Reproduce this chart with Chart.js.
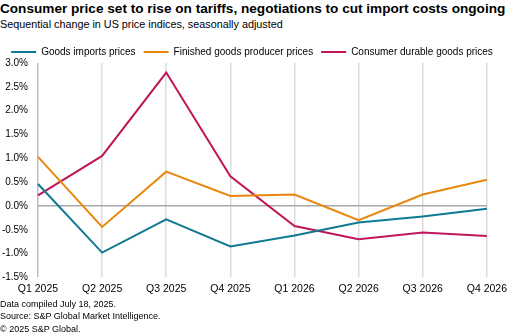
<!DOCTYPE html>
<html>
<head>
<meta charset="utf-8">
<script src="https://cdn.jsdelivr.net/npm/chart.js@4.4.0/dist/chart.umd.min.js"></script>
<style>
  body{margin:0;width:512px;height:335px;background:#fff;font-family:"Liberation Sans",Arial,sans-serif;color:#000;overflow:hidden;position:relative;}
  .title{position:absolute;left:0;top:1px;font-size:13.6px;font-weight:bold;white-space:nowrap;}
  .subtitle{position:absolute;left:0;top:18px;font-size:10.8px;white-space:nowrap;}
  .chartbox{position:absolute;left:0;top:39px;width:512px;height:261px;}
  .footer{position:absolute;left:0;top:298px;font-size:9px;line-height:12.3px;}
</style>
</head>
<body>
<div class="title">Consumer price set to rise on tariffs, negotiations to cut import costs ongoing</div>
<div class="subtitle">Sequential change in US price indices, seasonally adjusted</div>
<div class="chartbox"><canvas id="pricechart"></canvas></div>
<div class="footer">Data compiled July 18, 2025.<br>Source: S&amp;P Global Market Intelligence.<br>© 2025 S&amp;P Global.</div>
<script>
// quarters on the x axis
const quarters = ["Q1 2025","Q2 2025","Q3 2025","Q4 2025","Q1 2026","Q2 2026","Q3 2026","Q4 2026"];

// sequential % change
const goodsImports = [0.46,-0.98,-0.28,-0.85,-0.62,-0.35,-0.22,-0.06];
const finishedGoods = [1.03,-0.44,0.72,0.21,0.24,-0.30,0.24,0.55];
const consumerDurables = [0.22,1.05,2.80,0.62,-0.42,-0.70,-0.56,-0.63];

const yTicks = [-1.5,-1.0,-0.5,0.0,0.5,1.0,1.5,2.0,2.5,3.0];

const font = "'Liberation Sans', Arial, sans-serif";

function series(label,data,color){
    return {label:label,data:data,borderColor:color,backgroundColor:color,borderWidth:2,pointRadius:0,tension:0};
}

// pull the plot a little closer to the legend
const legendTrim = {
    id:"legendTrim",
    afterInit(chart){
        const legend = chart.legend;
        if(!legend) return;
        const fit = legend.fit.bind(legend);
        legend.fit = function(){ fit(); this.height -= 4; };
    }
};

const ctx = document.getElementById("pricechart").getContext("2d");
new Chart(ctx,{
    type:"line",
    data:{
        labels:quarters,
        datasets:[
            series("Goods imports prices",goodsImports,"#0f7a92"),
            series("Finished goods producer prices",finishedGoods,"#e8870e"),
            series("Consumer durable goods prices",consumerDurables,"#c1175a")
        ]
    },
    plugins:[legendTrim],
    options:{
        responsive:true,
        maintainAspectRatio:false,
        animation:false,
        layout:{padding:{left:0,right:8,top:0,bottom:0}},
        plugins:{
            legend:{
                position:"top",
                labels:{
                    boxWidth:25,
                    boxHeight:2,
                    padding:8,
                    color:"#000",
                    font:{family:font,size:10},
                    generateLabels:(chart)=>chart.data.datasets.map((ds,i)=>({
                        text:ds.label,fillStyle:ds.borderColor,strokeStyle:ds.borderColor,lineWidth:0,datasetIndex:i
                    }))
                }
            },
            tooltip:{enabled:false}
        },
        scales:{
            x:{
                offset:false,
                grid:{
                    color:(c)=>c.index===0?"#bdbdbd":"#dcdcdc",
                    lineWidth:1.5,
                    drawTicks:false
                },
                border:{display:false},
                ticks:{color:"#000",font:{family:font,size:10.5},padding:5,maxRotation:0}
            },
            y:{
                min:-1.5,
                max:3.0,
                afterBuildTicks:(axis)=>{axis.ticks = yTicks.map(v=>({value:v}));},
                afterFit:(axis)=>{axis.width = 38;},
                grid:{
                    color:(c)=>c.tick && c.tick.value===0?"#a8a8a8":"rgba(0,0,0,0)",
                    lineWidth:1.5,
                    drawTicks:false
                },
                border:{display:false},
                ticks:{
                    color:"#000",
                    font:{family:font,size:10},
                    padding:10,
                    callback:(v)=>Number(v).toFixed(1)+"%"
                }
            }
        }
    }
});
</script>
</body>
</html>
